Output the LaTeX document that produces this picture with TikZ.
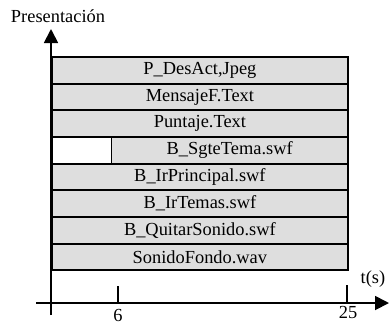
\documentclass[tikz,border=0pt]{standalone}
\usepackage{fontspec}
\setmainfont{Liberation Serif}
\usetikzlibrary{arrows.meta}
\begin{document}
\begin{tikzpicture}[
    x=0.5pt, y=-0.5pt,
    bar/.style={rectangle, draw=black, line width=0.9pt, fill=black!13, anchor=north west, minimum width=148pt, minimum height=13.33pt, inner sep=0pt, font=\fontsize{9.2}{10}\selectfont},
    hueco/.style={rectangle, draw=black, line width=0.9pt, fill=white, anchor=north west, minimum width=29.8pt, minimum height=13.33pt, inner sep=0pt},
    eje/.style={-{Triangle[length=7pt,width=7pt]}, line width=0.9pt},
    marca/.style={line width=0.9pt},
    etiq/.style={font=\fontsize{9.2}{10}\selectfont}
]
    \useasboundingbox (0,0) rectangle (390,323);

    % Barras de medios
    \node[bar] (desact) at (51,56) {P\_DesAct,Jpeg};
    \node[bar] (mensaje) at (51,82.7) {MensajeF.Text};
    \node[bar] (puntaje) at (51,109.3) {Puntaje.Text};
    \node[hueco] (vacio) at (51,136) {};
    \node[bar, minimum width=118.2pt] (sgte) at (110.6,136) {B\_SgteTema.swf};
    \node[bar] (principal) at (51,162.7) {B\_IrPrincipal.swf};
    \node[bar] (temas) at (51,189.3) {B\_IrTemas.swf};
    \node[bar] (quitar) at (51,216) {B\_QuitarSonido.swf};
    \node[bar] (fondo) at (51,242.7) {SonidoFondo.wav};

    % Ejes
    \coordinate (ybase) at (51,315);
    \coordinate (ytope) at (51,29);
    \coordinate (xbase) at (36,303);
    \coordinate (xtope) at (389,303);
    \draw[eje] (ybase) -- (ytope);
    \draw[eje] (xbase) -- (xtope);

    % Marcas de tiempo
    \coordinate (m6a) at (118,286);
    \coordinate (m6b) at (118,303);
    \coordinate (m25a) at (347,285);
    \coordinate (m25b) at (347,303);
    \draw[marca] (m6a) -- (m6b);
    \draw[marca] (m25a) -- (m25b);

    % Textos
    \node[etiq] (pres) at (58,16) {Presentación};
    \node[etiq] (ts) at (373,279) {t(s)};
    \node[etiq] (seis) at (118,315) {6};
    \node[etiq] (veinti) at (348,312) {25};
\end{tikzpicture}
\end{document}
